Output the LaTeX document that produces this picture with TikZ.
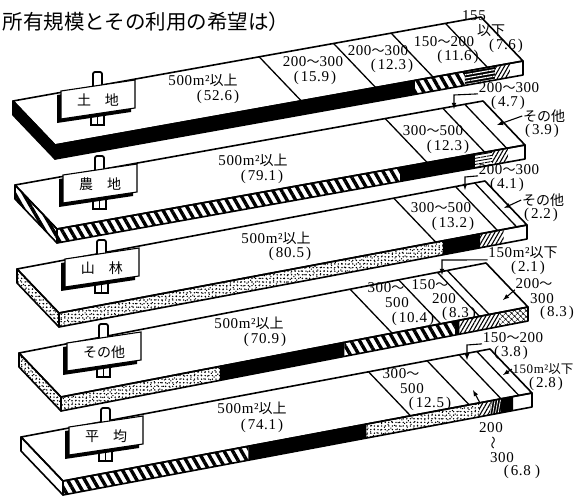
\documentclass[tikz,border=0pt]{standalone}
\usepackage{fontspec}
\setmainfont[LetterSpace=4]{Liberation Serif}
\newfontfamily\jpf{Noto Sans CJK JP}
\usetikzlibrary{calc}
\usetikzlibrary{patterns.meta}
\newcommand{\jtx}[1]{{\jpf\fontsize{14}{16}\selectfont #1}}
\newcommand{\wv}{{\jpf\fontsize{13}{16}\selectfont 〜}}
\newcommand{\pv}[1]{(\kern2pt#1\kern2pt)}
% one slab: top face and left side
\newcommand{\slabtop}[6]{%
  \coordinate (#1) at (#2,#3);
  \coordinate (#1r) at (#4,#5);
  \coordinate (#1b) at ($(#1)+(-42,-44)$);
  \coordinate (#1br) at ($(#1r)+(-42,-44)$);
  \draw[fill=white,line join=round] (#1) -- (#1r) -- (#1br) -- (#1b) -- cycle;
  \draw[#6,line join=round] (#1) -- (#1b) -- ++(0,14) -- ($(#1)+(0,14)$) -- cycle;}
\newcommand{\fseg}[4]{\path[#4] ($(#1)!#2!(#1r)$) -- ($(#1)!#3!(#1r)$) -- ++(0,14) -- ($(#1)!#2!(#1r)+(0,14)$) -- cycle;}
\newcommand{\slabfront}[1]{\draw[line join=round] (#1) -- (#1r) -- ++(0,14) -- ($(#1)+(0,14)$) -- cycle;}
\newcommand{\divd}[2]{\draw[divline] ($(#1)!#2!(#1r)$) -- ++(-42,-44);}
% sign on its post
\newcommand{\signboard}[4]{%
  \coordinate (#1) at (#2,#3);
  \draw[line width=1.5pt,fill=white] ($(#1)+(30,19)$) rectangle ($(#1)+(43,34)$);
  \draw[line width=1pt] ($(#1)+(36.5,20)$) -- ($(#1)+(36.5,34)$);
  \draw[line width=1.8pt,fill=white,rounded corners=2pt] ($(#1)+(32,-19)$) rectangle ($(#1)+(41,-2)$);
  \fill ($(#1)+(-4,4)$) -- ($(#1)+(70,-7)$) -- ($(#1)+(70,21)$) -- ($(#1)+(-4,32)$) -- cycle;
  \draw[line width=1.1pt,fill=white] (#1) -- ($(#1)+(74,-11)$) -- ($(#1)+(74,17)$) -- ($(#1)+(0,28)$) -- cycle;
  \node[font=\jpf\fontsize{14}{16}\selectfont,inner sep=0pt] (#1t) at ($(#1)+(37,9)$) {#4};}
\tikzset{
  lab/.style={font=\fontsize{15}{16}\selectfont,inner sep=0pt},
  smalllab/.style={font=\fontsize{13}{14}\selectfont,inner sep=0pt},
  divline/.style={line width=1.3pt},
  leader/.style={line width=1.1pt,-latex},
  fblack/.style={fill=black},
  fhatch/.style={pattern={Lines[angle=-60,distance=7.5pt,line width=3.4pt]}},
  fslash/.style={pattern={Lines[angle=60,distance=3.4pt,line width=1.1pt]}},
  fstripe/.style={preaction={fill=black},pattern={Lines[angle=10,distance=3.2pt,line width=1.1pt]},pattern color=white},
  fthin/.style={pattern={Lines[angle=10,distance=3pt,line width=.9pt]}},
  fvert/.style={preaction={fill=black},pattern={Lines[angle=80,distance=2.6pt,line width=.8pt]},pattern color=white},
  fdots/.style={preaction={pattern={Dots[distance=4.6pt,radius=.75pt,angle=37]}},pattern={Dots[distance=3.6pt,radius=.8pt]}},
  fmix/.style={pattern={Hatch[angle=45,distance=4pt,line width=.6pt]}},
  fnone/.style={}
}
\begin{document}
\begin{tikzpicture}[x=1pt,y=-1pt,line width=1.6pt]
\path[use as bounding box,fill=white] (0,0) rectangle (574,498);
\node[font=\jpf\fontsize{20.5}{22}\selectfont,anchor=west,inner sep=0pt] (title) at (2,22) {所有規模とその利用の希望は）};

% 土地
\slabtop{s1}{55}{145}{523}{61}{fblack}
\fseg{s1}{0}{.769}{fblack}
\fseg{s1}{.769}{.876}{fhatch}
\fseg{s1}{.876}{.94}{fstripe}
\fseg{s1}{.94}{.972}{fslash}
\slabfront{s1}
\divd{s1}{.526}
\divd{s1}{.685}
\divd{s1}{.808}
\divd{s1}{.924}
\signboard{g1}{61}{91}{土　地}
\node[lab] (t1a) at (203,80) {500m²\jtx{以上}};
\node[lab] (t1av) at (218,97) {\pv{52.6}};
\node[lab] (t1b) at (313,62) {200\wv300};
\node[lab] (t1bv) at (315,78) {\pv{15.9}};
\node[lab] (t1c) at (378,51) {200\wv300};
\node[lab] (t1cv) at (392,66) {\pv{12.3}};
\node[lab] (t1d) at (444,42) {150\wv200};
\node[lab] (t1dv) at (458,57) {\pv{11.6}};
\node[lab] (t1e) at (474,16) {155};
\node[lab] (t1ew) at (491,31) {\jtx{以下}};
\node[lab] (t1ev) at (506,46) {\pv{7.6}};

% 農地
\slabtop{s2}{57}{229}{525}{145}{fhatch}
\fseg{s2}{0}{.733}{fhatch}
\fseg{s2}{.733}{.893}{fblack}
\fseg{s2}{.893}{.93}{fthin}
\fseg{s2}{.93}{.964}{fslash}
\slabfront{s2}
\divd{s2}{.791}
\divd{s2}{.914}
\divd{s2}{.961}
\signboard{g2}{63}{175}{農　地}
\node[lab] (t2a) at (253,160) {500m²\jtx{以上}};
\node[lab] (t2av) at (262,177) {\pv{79.1}};
\node[lab] (t2b) at (433,131) {300\wv500};
\node[lab] (t2bv) at (448,147) {\pv{12.3}};
\node[lab] (l2c) at (509,88) {200\wv300};
\node[lab] (l2cv) at (508,103) {\pv{4.7}};
\node[lab] (l2d) at (544,116) {\jtx{その他}};
\node[lab] (l2dv) at (542,131) {\pv{3.9}};
\coordinate (b2) at (454,95);
\coordinate (a2c) at (454,109);
\coordinate (a2d) at (497,125);
\draw[leader] (l2c.south west) -- (b2) -- (a2c);
\draw[leader] (l2d.west) -- (a2d);

% 山林
\slabtop{s3}{59}{313}{527}{225}{fdots}
\fseg{s3}{0}{.82}{fdots}
\fseg{s3}{.82}{.90}{fblack}
\fseg{s3}{.90}{.95}{fslash}
\slabfront{s3}
\divd{s3}{.805}
\divd{s3}{.937}
\divd{s3}{.978}
\signboard{g3}{65}{259}{山　林}
\node[lab] (t3a) at (276,238) {500m²\jtx{以上}};
\node[lab] (t3av) at (290,254) {\pv{80.5}};
\node[lab] (t3b) at (441,208) {300\wv500};
\node[lab] (t3bv) at (453,224) {\pv{13.2}};
\node[lab] (l3c) at (509,170) {200\wv300};
\node[lab] (l3cv) at (507,185) {\pv{4.1}};
\node[lab] (l3d) at (543,200) {\jtx{その他}};
\node[lab] (l3dv) at (541,215) {\pv{2.2}};
\coordinate (b3) at (465,177);
\coordinate (a3c) at (465,190);
\coordinate (a3d) at (504,208);
\draw[leader] (l3c.south west) -- (b3) -- (a3c);
\draw[leader] (l3d.west) -- (a3d);

% その他
\slabtop{s4}{61}{397}{528}{307}{fdots}
\fseg{s4}{0}{.34}{fdots}
\fseg{s4}{.34}{.607}{fblack}
\fseg{s4}{.607}{.844}{fhatch}
\fseg{s4}{.844}{.853}{fblack}
\fseg{s4}{.853}{.938}{fslash}
\fseg{s4}{.938}{1}{fmix}
\slabfront{s4}
\divd{s4}{.709}
\divd{s4}{.813}
\divd{s4}{.896}
\divd{s4}{.917}
\signboard{g4}{67}{343}{その他}
\node[lab] (t4a) at (249,323) {500m²\jtx{以上}};
\node[lab] (t4av) at (265,340) {\pv{70.9}};
\node[lab] (t4b) at (386,288) {300\wv};
\node[lab] (t4bw) at (397,303) {500};
\node[lab] (t4bv) at (413,319) {\pv{10.4}};
\node[lab] (t4c) at (430,285) {150\wv};
\node[lab] (t4cw) at (444,299) {200};
\node[lab] (t4cv) at (459,314) {\pv{8.3}};
\node[lab] (l4c) at (523,253) {150m²\jtx{以下}};
\node[lab] (l4cv) at (528,268) {\pv{2.1}};
\node[lab] (l4d) at (534,284) {200\wv};
\node[lab] (l4dw) at (542,299) {300};
\node[lab] (l4dv) at (557,313) {\pv{8.3}};
\coordinate (b4) at (442,260);
\coordinate (a4c) at (442,275);
\coordinate (a4d) at (503,300);
\draw[leader] (l4c.south west) -- (b4) -- (a4c);
\draw[leader] (l4d.south west) -- (a4d);

% 平均
\slabtop{s5}{63}{481}{532}{393}{fnone}
\fseg{s5}{0}{.395}{fhatch}
\fseg{s5}{.395}{.647}{fblack}
\fseg{s5}{.647}{.887}{fdots}
\fseg{s5}{.887}{.912}{fslash}
\fseg{s5}{.912}{.934}{fvert}
\fseg{s5}{.934}{.96}{fblack}
\slabfront{s5}
\divd{s5}{.741}
\divd{s5}{.866}
\divd{s5}{.934}
\divd{s5}{.972}
\signboard{g5}{69}{427}{平　均}
\node[lab] (t5a) at (252,408) {500m²\jtx{以上}};
\node[lab] (t5av) at (262,426) {\pv{74.1}};
\node[lab] (t5b) at (401,374) {300\wv};
\node[lab] (t5bw) at (412,389) {500};
\node[lab] (t5bv) at (430,404) {\pv{12.5}};
\node[lab] (l5c) at (513,338) {150\wv200};
\node[lab] (l5cv) at (511,353) {\pv{3.8}};
\node[smalllab] (l5d) at (543,369) {150m²{\jpf\fontsize{12.5}{14}\selectfont 以下}};
\node[lab] (l5dv) at (546,384) {\pv{2.8}};
\node[lab] (l5e) at (491,428) {200};
\node[lab,rotate=90] (l5ew) at (495,443) {\wv};
\node[lab] (l5ef) at (502,458) {300};
\node[lab] (l5ev) at (522,472) {(\kern2pt6.8 )};
\coordinate (b5) at (467,345);
\coordinate (a5c) at (467,360);
\coordinate (a5d) at (503,375);
\coordinate (t5s) at (480,403);
\coordinate (a5e) at (473,390);
\draw[leader] (l5c.south west) -- (b5) -- (a5c);
\draw[leader] (l5d.west) -- (a5d);
\draw[leader] (t5s) -- (a5e);
\end{tikzpicture}
\end{document}
